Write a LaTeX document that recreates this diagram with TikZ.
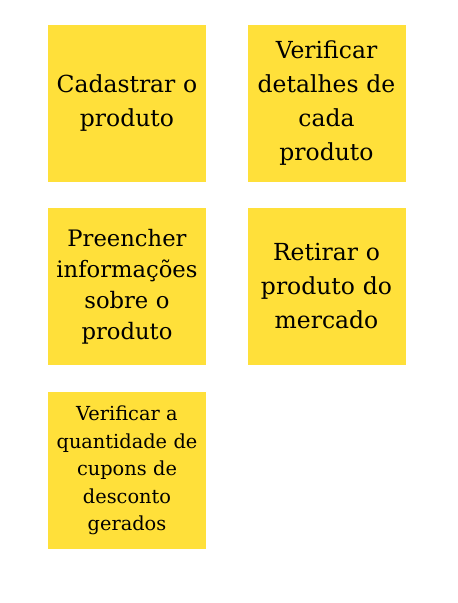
\documentclass[tikz,border=0pt]{standalone}
\usepackage{fontspec}
\setmainfont{DejaVu Serif}
\usepackage{tikz}
\usetikzlibrary{positioning}
\definecolor{notey}{HTML}{FFE03A}

\begin{document}
\begin{tikzpicture}[
    x=0.75pt, y=-0.75pt,
    every node/.style={font=\fontsize{17.6}{25.5}\selectfont},
    note/.style={
        rectangle,
        fill=notey,
        minimum width=118.5pt,
        minimum height=117.75pt,
        text width=112pt,
        align=center,
        inner sep=0pt
    },
    smalltext/.style={font=\fontsize{17}{23.3}\selectfont},
    tinytext/.style={font=\fontsize{14.5}{20.6}\selectfont}
]

% CANVAS
\useasboundingbox[fill=white] (0,0) rectangle (457,603);

% NOTES
\node[note] (cad)  at (127, 103.5)   {Cadastrar o\\produto};
\node[note] (ver)  at (326.5, 103.5) {Verificar\\detalhes de\\cada\\produto};

\node[note, smalltext] (pre) at (127, 286.5)   {Preencher\\informações\\sobre o\\produto};
\node[note] (ret)  at (326.5, 286.5) {Retirar o\\produto do\\mercado};

\node[note, tinytext] (cup) at (127, 470.5) {Verificar a\\quantidade de\\cupons de\\desconto\\gerados};

\end{tikzpicture}
\end{document}
